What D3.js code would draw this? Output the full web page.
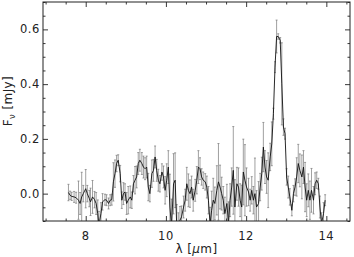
<!DOCTYPE html>
<html><head><meta charset="utf-8">
<script src="https://cdn.jsdelivr.net/npm/d3@7"></script>
<style>html,body{margin:0;padding:0;background:#fff}svg{display:block}</style>
</head><body>
<script>
const wavelength = [7.57,7.61,7.65,7.71,7.76,7.82,7.86,7.90,7.94,8.00,8.04,8.09,8.12,8.17,8.22,8.26,8.30,8.33,8.38,8.42,8.48,
8.52,8.57,8.61,8.65,8.69,8.73,8.77,8.81,8.86,8.90,8.94,8.98,9.02,9.06,9.11,9.15,9.19,9.23,9.27,9.31,9.35,9.40,9.44,9.48,9.52,9.56,
9.60,9.65,9.69,9.73,9.77,9.81,9.85,9.90,9.94,9.98,10.02,10.06,10.10,10.14,10.19,10.23,10.27,10.31,10.35,10.39,10.44,10.48,10.52,10.56,
10.60,10.64,10.68,10.73,10.77,10.81,10.85,10.89,10.93,10.98,11.02,11.06,11.10,11.14,11.18,11.22,11.27,11.31,11.35,11.39,11.43,11.47,
11.52,11.56,11.60,11.64,11.68,11.72,11.77,11.81,11.85,11.89,11.93,11.97,12.01,12.06,12.10,12.14,12.18,12.22,12.26,12.31,12.35,12.39,
12.43,12.47,12.51,12.55,12.60,12.64,12.68,12.72,12.76,12.80,12.85,12.89,12.93,12.97,13.01,13.05,13.09,13.14,13.18,13.22,13.26,13.30,
13.34,13.39,13.43,13.47,13.51,13.55,13.59,13.63,13.68,13.72,13.76,13.80,13.84,13.88,13.93,13.97];
const flux = [0.004,-0.006,-0.010,-0.012,-0.015,-0.024,-0.036,-0.012,0.000,0.018,0.000,-0.018,-0.030,-0.012,-0.022,-0.036,-0.073,-0.115,-0.073,-0.030,-0.022,
-0.024,-0.036,-0.024,-0.022,0.043,0.073,0.110,0.122,0.073,-0.024,0.000,0.006,-0.036,-0.024,-0.012,-0.024,0.036,0.049,0.061,0.110,0.122,0.110,
0.097,0.091,0.097,0.024,0.000,0.073,0.085,0.134,0.085,0.049,0.036,0.079,0.061,0.012,0.049,0.097,-0.049,-0.120,0.036,0.049,-0.120,-0.130,
-0.097,-0.085,-0.049,-0.024,0.036,0.012,0.000,0.024,-0.024,0.012,0.049,0.097,0.091,0.061,0.049,0.043,0.024,-0.024,-0.110,-0.061,-0.024,
-0.036,0.012,0.043,0.024,0.000,-0.024,-0.073,-0.036,-0.110,-0.024,0.024,0.085,-0.049,0.036,0.024,-0.024,-0.049,0.079,0.049,0.024,0.006,
-0.024,0.012,-0.024,0.000,-0.049,-0.036,0.024,0.073,0.170,0.097,0.061,0.049,0.134,0.182,0.292,0.462,0.574,0.574,0.560,0.401,0.243,0.219,
0.061,0.024,-0.012,-0.061,0.000,0.024,0.061,0.110,0.085,0.061,0.097,0.024,-0.024,0.012,-0.024,0.012,-0.024,0.036,0.049,0.036,-0.049,
-0.110,-0.073,-0.024];
const fluxErr = [0.030,0.015,0.015,0.020,0.020,0.070,0.040,0.090,0.030,0.070,0.030,0.030,0.050,0.060,0.030,0.040,0.050,0.050,0.040,0.030,0.020,
0.020,0.020,0.020,0.020,0.070,0.050,0.030,0.020,0.030,0.030,0.040,0.030,0.040,0.050,0.040,0.030,0.030,0.050,0.040,0.040,0.040,0.040,
0.040,0.040,0.040,0.050,0.030,0.050,0.040,0.040,0.040,0.040,0.030,0.030,0.040,0.050,0.060,0.060,0.120,0.100,0.110,0.100,0.080,0.060,
0.050,0.040,0.040,0.040,0.060,0.060,0.050,0.040,0.040,0.040,0.050,0.060,0.040,0.030,0.030,0.030,0.040,0.050,0.060,0.070,0.080,
0.060,0.090,0.140,0.080,0.060,0.050,0.060,0.070,0.080,0.060,0.070,0.160,0.100,0.060,0.070,0.060,0.080,0.120,0.130,0.070,0.050,
0.040,0.050,0.050,0.130,0.060,0.080,0.050,0.060,0.090,0.060,0.060,0.100,0.050,0.080,0.020,0.020,0.060,0.010,0.010,0.150,0.030,0.020,
0.030,0.040,0.030,0.020,0.030,0.030,0.070,0.070,0.060,0.080,0.060,0.090,0.060,0.060,0.070,0.080,0.050,0.040,0.030,0.020,0.040,
0.040,0.040,0.020];
const xTicks = [8, 10, 12, 14];
const yTicks = [0.0, 0.2, 0.4, 0.6];

const W = 354, H = 257;
const L = 43, R = 350, T = 2, B = 221;
const x = d3.scaleLinear().domain([6.935, 14.59]).range([L, R]);
const y = d3.scaleLinear().domain([-0.1, 0.7]).range([B, T]);
const col = "#222";
const font = "'DejaVu Sans', sans-serif";

const svg = d3.select("body").append("svg").attr("width", W).attr("height", H)
  .style("font-family", font);
svg.append("rect").attr("width", W).attr("height", H).attr("fill", "#fff");

svg.append("defs").append("clipPath").attr("id", "clip")
  .append("rect").attr("x", L).attr("y", T).attr("width", R - L).attr("height", B - T);

const data = wavelength.map((w, i) => ({ w, f: flux[i], e: fluxErr[i] }));
const g = svg.append("g").attr("clip-path", "url(#clip)");

// error bars
const eb = g.append("g").attr("stroke", "#777").attr("stroke-width", 0.7).attr("fill", "none");
data.forEach(d => {
  const cx = x(d.w), y1 = y(d.f - d.e), y2 = y(d.f + d.e);
  eb.append("line").attr("x1", cx).attr("x2", cx).attr("y1", y1).attr("y2", y2);
  eb.append("line").attr("x1", cx - 1).attr("x2", cx + 1).attr("y1", y1).attr("y2", y1);
  eb.append("line").attr("x1", cx - 1).attr("x2", cx + 1).attr("y1", y2).attr("y2", y2);
});
g.append("path").datum(data)
  .attr("d", d3.line().x(d => x(d.w)).y(d => y(d.f)))
  .attr("fill", "none").attr("stroke", "#111").attr("stroke-width", 0.9);

// axes (IDL-style, inward ticks on all sides)
function axisSet(axisGen, transform, scale, major, minorStep, majorLen, minorLen) {
  const minors = d3.range(Math.ceil(scale.domain()[0] / minorStep - 1e-9) * minorStep, scale.domain()[1] + 1e-9, minorStep)
    .filter(v => !major.some(m => Math.abs(m - v) < 1e-6));
  const gm = svg.append("g").attr("transform", transform)
    .call(axisGen(scale).tickValues(minors).tickSize(minorLen).tickFormat(""));
  const gM = svg.append("g").attr("transform", transform)
    .call(axisGen(scale).tickValues(major).tickSize(majorLen).tickFormat(""));
  [gm, gM].forEach(a => {
    a.select(".domain").remove();
    a.selectAll("line").attr("stroke", col).attr("stroke-width", 0.9);
  });
}
const xMinor = 0.5, yMinor = 0.05;
axisSet(d3.axisTop, `translate(0,${B})`, x, xTicks, xMinor, 5, 2.5);
axisSet(d3.axisBottom, `translate(0,${T})`, x, xTicks, xMinor, 5, 2.5);
axisSet(d3.axisRight, `translate(${L},0)`, y, yTicks, yMinor, 5, 2.5);
axisSet(d3.axisLeft, `translate(${R},0)`, y, yTicks, yMinor, 5, 2.5);

svg.append("rect").attr("x", L).attr("y", T).attr("width", R - L).attr("height", B - T)
  .attr("fill", "none").attr("stroke", col).attr("stroke-width", 1);

// tick labels
svg.append("g").selectAll("text").data(xTicks).join("text")
  .attr("x", d => x(d)).attr("y", 239.5).attr("text-anchor", "middle")
  .attr("font-size", 11.5).attr("fill", col).attr("letter-spacing", 0.5)
  .text(d => d3.format("d")(d));
svg.append("g").selectAll("text").data(yTicks).join("text")
  .attr("x", 40).attr("y", d => y(d) + 4).attr("text-anchor", "end")
  .attr("font-size", 11.5).attr("fill", col).attr("letter-spacing", 0.6)
  .text(d => d3.format(".1f")(d));

// axis titles
const xt = svg.append("text").attr("x", (L + R) / 2).attr("y", 253).attr("text-anchor", "middle")
  .attr("font-size", 12).attr("fill", col).attr("letter-spacing", 0.4);
xt.append("tspan").text("λ [");
xt.append("tspan").attr("font-style", "italic").text("μ");
xt.append("tspan").text("m]");

const yt = svg.append("text").attr("transform", "translate(12,101) rotate(-90)")
  .attr("text-anchor", "middle").attr("font-size", 12).attr("fill", col).attr("letter-spacing", 0.4);
yt.append("tspan").text("F");
yt.append("tspan").attr("font-size", 8.5).attr("dy", 3).text("ν");
yt.append("tspan").attr("dy", -3).text(" [mJy]");
</script>
</body></html>
